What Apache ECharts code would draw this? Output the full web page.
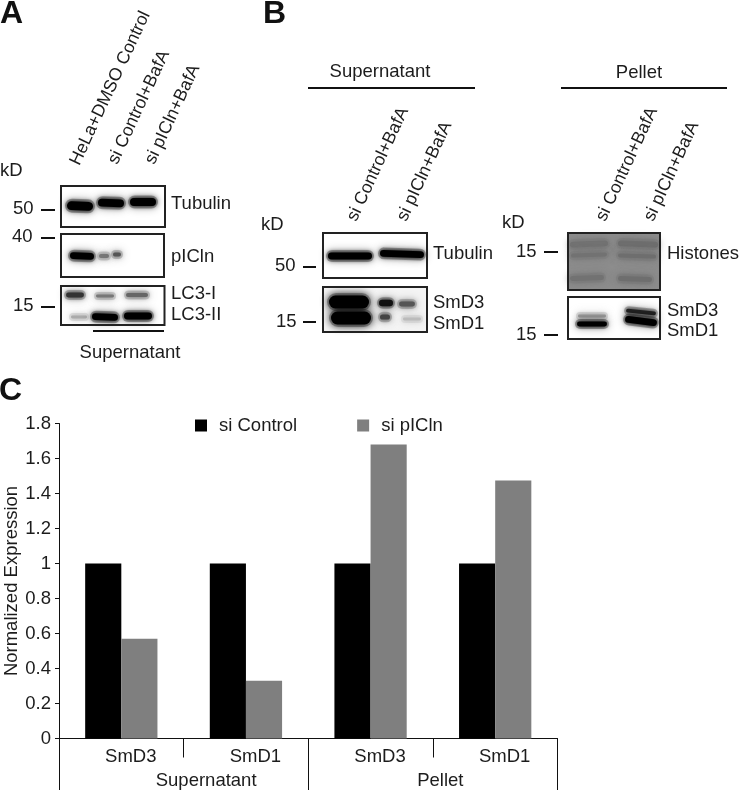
<!DOCTYPE html>
<html><head><meta charset="utf-8">
<style>html,body{margin:0;padding:0;background:#fff}#c{width:739px;height:790px}</style>
<script src="https://cdn.jsdelivr.net/npm/echarts@6/dist/echarts.min.js"></script>
</head><body><div id="c"></div>
<script>
// ---- chart data ----
const categories = ['SmD3', 'SmD1', 'SmD3', 'SmD1'];
const groups = ['Supernatant', 'Pellet'];
const siControl = [1, 1, 1, 1];
const siPICln = [0.57, 0.33, 1.68, 1.475];
const seriesNames = ['si Control', 'si pICln'];
const yAxisTitle = 'Normalized Expression';

// ---- decoration of the blot panels (pictures, not data) ----
const FONT = '"Liberation Sans", Arial, sans-serif';
const INK = '#1c1c1c';
const g = [];
function txt(s, x, y, size, o) {
  o = o || {};
  g.push({type:'text', x, y, rotation:(o.rot||0)*Math.PI/180, z:10,
    style:{text:s, fill:o.fill||INK, font:(o.bold?'bold ':'')+size+'px '+FONT,
      textAlign:o.align||'left', textVerticalAlign:o.va||'middle'}});
}
function line(x1,y1,x2,y2,w){ g.push({type:'line', z:10, shape:{x1,y1,x2,y2}, style:{stroke:'#111',lineWidth:w||2}}); }
function panelBg(x,y,w,h,fill){ g.push({type:'rect', z:5, shape:{x,y,width:w,height:h}, style:{fill:fill||'#fff'}}); }
function panelFrame(x,y,w,h){ g.push({type:'rect', z:9, shape:{x,y,width:w,height:h}, style:{fill:'none',stroke:'#222',lineWidth:2}}); }
function pill(cx,cy,rx,ry,col,rot,blur,op){
  g.push({type:'rect', z:6, shape:{x:cx-rx,y:cy-ry,width:2*rx,height:2*ry,r:ry}, originX:cx, originY:cy,
    rotation:(rot||0)*Math.PI/180,
    style:{fill:col, shadowColor:col, shadowBlur:blur, opacity:op}});
}
function band(cx,cy,rx,ry,col,rot,blur){
  pill(cx,cy,rx+1,ry+2,col,rot,9,0.28);
  pill(cx,cy,rx-1,ry-0.6,col,rot,blur==null?5:blur,1);
}
const S = 18.5, R = 17.7, ANG = 65;
txt('A',0,14,32,{bold:true,fill:'#111'}); txt('B',263,14,32,{bold:true,fill:'#111'}); txt('C',-1,391,32,{bold:true,fill:'#111'});

// Panel A
txt('HeLa+DMSO Control',83,168,R,{rot:ANG,va:'bottom'});
txt('si Control+BafA',121,167,R,{rot:ANG,va:'bottom'});
txt('si pICln+BafA',158,167,R,{rot:ANG,va:'bottom'});
txt('kD',0,171,S);
txt('50',13,209,S); line(41,210,55,210); txt('40',12,237,S); line(41,238,55,238); txt('15',13,306,S); line(41,307,55,307);
panelBg(61,186,104,41);
band(80,206,14,5,'#000',-2); band(111,203,14,4.5,'#000',-2); band(143,202,14,4.5,'#000',0);
panelFrame(61,186,104,41);
panelBg(61,234,103,43);
band(82,256,13,4,'#000',-2); band(104,256,6,2.5,'#777',0); band(117,254.5,5,2.5,'#555',0);
panelFrame(61,234,103,43);
panelBg(61,286,103.5,39);
band(75,295,10,3,'#333',0); band(105,296,10,2,'#777',0); band(137,295,12,2.5,'#666',0);
band(79,317,9,2,'#aaa',0); band(105,317,14,4,'#000',-2); band(138,316,15,4,'#000',0);
panelFrame(61,286,103.5,39);
txt('Tubulin',171,204,S); txt('pICln',171,257,S); txt('LC3-I',171,294,S); txt('LC3-II',171,315,S);
line(93,331,164,331); txt('Supernatant',130,353,S,{align:'center'});

// Panel B supernatant
txt('Supernatant',380,72,S,{align:'center'}); line(308,88,475,88);
txt('si Control+BafA',360,224,R,{rot:ANG,va:'bottom'}); txt('si pICln+BafA',410,224,R,{rot:ANG,va:'bottom'});
txt('kD',261,225,S); txt('50',275,266,S); line(303,267,316,267); txt('15',276,322,S); line(303,322,316,322);
panelBg(323,233,104,45);
band(350,256,23,4,'#000',0); band(402,254,23,4,'#000',-2);
panelFrame(323,233,104,45);
panelBg(323,287,104,45,'#f4f4f4');
band(349,302,21,7,'#000',0,8); band(351,318,21,7,'#000',0,8);
band(386,303,8,3.8,'#111',0); band(407,304,9,3,'#555',0); band(385,317,6,3.2,'#444',0); band(412,319,10,2,'#bbb',0);
panelFrame(323,287,104,45);
txt('Tubulin',433,254,S); txt('SmD3',433,303,S); txt('SmD1',433,324,S);

// Panel B pellet
txt('Pellet',639,73,S,{align:'center'}); line(561,88,727,88);
txt('si Control+BafA',609,224,R,{rot:ANG,va:'bottom'}); txt('si pICln+BafA',657,224,R,{rot:ANG,va:'bottom'});
txt('kD',502,223,S); txt('15',516,252,S); line(544,252,558,252); txt('15',516,335,S); line(544,335,558,335);
panelBg(568,233,92,57,'#8d8d8d');
[[589,244,20,3.5],[589,255,19,2.6],[587,278,18,3]].forEach(b=>band(b[0],b[1],b[2],b[3],'#727272',2,7));
[[638,244,21,3.5],[637,256,20,2.6],[635,279,18,3]].forEach(b=>band(b[0],b[1],b[2],b[3],'#6e6e6e',-2,7));
panelFrame(568,233,92,57);
panelBg(568,297,92,42);
band(592,316,15,2,'#999',0,4); band(592,324,16,3,'#000',0,4);
band(641,312,16,2.5,'#222',-6,4); band(641,321,17,4,'#000',-7,4);
panelFrame(568,297,92,42);
txt('Histones',667,254,S); txt('SmD3',667,311,S); txt('SmD1',667,331,S);

const chart = echarts.init(document.getElementById('c'), null, {renderer:'canvas'});
const axisFont = {color:INK, fontSize:S, fontFamily:'Liberation Sans'};
const groupPad = [45, 15];
chart.setOption({
  animation:false,
  backgroundColor:'#fff',
  textStyle:{fontFamily:'Liberation Sans'},
  graphic:{elements:g},
  legend:{left:195, top:416, padding:0, itemWidth:12, itemHeight:12, itemGap:60, icon:'rect',
    textStyle:Object.assign({},axisFont,{padding:[0,0,0,7]}),
    data:seriesNames},
  grid:{left:59, right:181.5, top:423.5, bottom:51.5, containLabel:false, outerBoundsMode:'none'},
  xAxis:[
    {type:'category', data:categories, position:'bottom',
     axisLine:{lineStyle:{color:'#111',width:1}}, axisTick:{show:true,length:19,lineStyle:{color:'#111'}},
     axisLabel:Object.assign({},axisFont,{margin:9,padding:[0,0,0,19]})},
    {type:'category', data:groups.map((v,i)=>({value:v,textStyle:{padding:[0,0,0,groupPad[i]]}})), position:'bottom',
     axisLine:{show:false}, axisTick:{show:true,length:52,lineStyle:{color:'#111'}},
     axisLabel:Object.assign({},axisFont,{margin:33})}
  ],
  yAxis:{type:'value', min:0, max:1.8, interval:0.2, name:yAxisTitle, nameLocation:'middle', nameGap:38, nameMoveOverlap:false,
    nameTextStyle:Object.assign({},axisFont,{fontSize:S}),
    axisLine:{show:true,lineStyle:{color:'#111',width:1}}, axisTick:{show:true,length:4,lineStyle:{color:'#111'}},
    splitLine:{show:false}, axisLabel:Object.assign({},axisFont,{margin:8})},
  series:[
    {name:seriesNames[0], type:'bar', data:siControl, barGap:0, barCategoryGap:'42%', itemStyle:{color:'#000'}},
    {name:seriesNames[1], type:'bar', data:siPICln, itemStyle:{color:'#7f7f7f'}}
  ]
});
</script></body></html>
